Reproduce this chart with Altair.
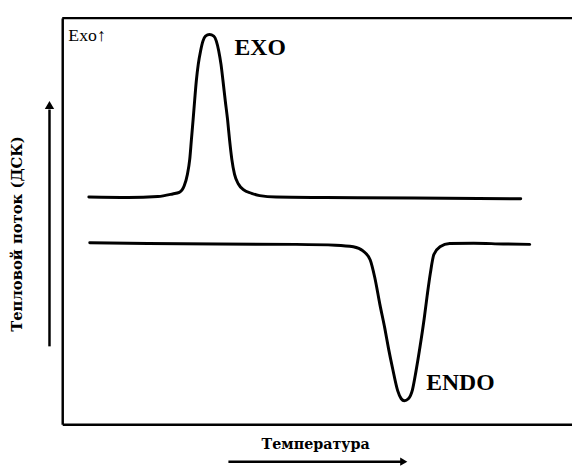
import altair as alt
import pandas as pd

# ---- data (arbitrary units: temperature 0-100, heat flow 0-100) ----
EXO_T = [5.22, 12.96, 18.76, 21.66, 22.96, 23.93, 24.56, 25.01, 25.34, 25.67, 25.98, 26.31,
         26.69, 27.14, 27.60, 28.10, 28.88, 29.73, 30.23, 30.70, 31.14, 31.53, 31.97, 32.44,
         32.82, 33.27, 33.79, 34.56, 35.53, 37.14, 38.74, 41.97, 51.64, 69.05, 89.94]
EXO_H = [55.95, 55.83, 56.07, 56.72, 57.11, 58.74, 61.58, 65.22, 70.07, 74.93, 79.78, 84.64,
         88.67, 91.92, 94.34, 95.56, 95.95, 95.56, 94.34, 91.92, 88.67, 84.64, 79.78, 74.93,
         70.07, 65.22, 61.58, 59.15, 57.77, 56.87, 56.31, 55.95, 55.83, 55.70, 55.51]

ENDO_T = [5.4, 16.8, 30.4, 45.8, 53.6, 57.1, 59.0, 60.4, 61.3, 62.3, 63.3, 64.0, 64.8, 65.8,
          66.5, 67.1, 67.9, 68.7, 69.4, 70.2, 71.0, 71.6, 72.2, 72.9, 74.1, 76.0, 80.7, 86.5, 91.7]
ENDO_H = [44.7, 44.5, 44.4, 44.3, 44.1, 43.7, 42.7, 40.5, 36.2, 29.6, 23.5, 18.7, 13.8, 8.3,
          6.3, 5.8, 6.3, 8.5, 13.1, 19.2, 26.0, 31.8, 37.1, 41.8, 43.7, 44.5, 44.6, 44.4, 44.3]

X_TITLE = "Температура"
Y_TITLE = "Тепловой поток (ДСК)"

LABELS = ["EXO", "ENDO", "Exo↑"]
LABEL_T = [33.8, 71.4, 1.2]
LABEL_H = [90.8, 8.5, 94.4]

# arrows beside the axes (data units, outside the plotted domain)
YARROW_T = [-2.5]
YARROW_H = [19.2]
YARROW_H2 = [77.5]
YARROW_HEAD_H = [78.6]
XARROW_H = [-9.2]
XARROW_T = [32.6]
XARROW_T2 = [66.5]
XARROW_HEAD_T = [67.0]

SERIF = "Liberation Serif"
TITLE_FONT = "DejaVu Serif"

curves = pd.DataFrame({
    "T": EXO_T + ENDO_T,
    "H": EXO_H + ENDO_H,
    "curve": ["EXO"] * len(EXO_T) + ["ENDO"] * len(ENDO_T),
})

xs = alt.Scale(domain=[0, 100], nice=False, zero=False)
ys = alt.Scale(domain=[0, 100], nice=False, zero=False)

x_axis = alt.Axis(
    title=X_TITLE, ticks=False, labels=False, grid=False,
    domain=True, domainColor="black", domainWidth=2.5,
    titleFont=TITLE_FONT, titleFontSize=14.5, titleFontWeight="bold", titleColor="black",
    titleX=256.5, titleY=25, titleBaseline="alphabetic", titleAlign="center")
y_axis = alt.Axis(
    title=Y_TITLE, ticks=False, labels=False, grid=False,
    domain=True, domainColor="black", domainWidth=2.5,
    titleFont=TITLE_FONT, titleFontSize=15, titleFontWeight="bold", titleColor="black",
    titleX=-46, titleY=218.5, titleBaseline="middle", titleAlign="center", titleAngle=270)

X = alt.X("T:Q", scale=xs, axis=x_axis)
Y = alt.Y("H:Q", scale=ys, axis=y_axis)

lines = alt.Chart(curves).mark_line(
    color="black", strokeWidth=3, interpolate="monotone", strokeCap="round"
).encode(x=X, y=Y, detail="curve:N")

frame_top = alt.Chart(pd.DataFrame({"T": [0], "T2": [100], "H": [100]})).mark_rule(
    color="black", strokeWidth=2.5
).encode(x=X, x2="T2:Q", y=Y)

lab = pd.DataFrame({"label": LABELS, "T": LABEL_T, "H": LABEL_H})
big_labels = alt.Chart(lab[lab["label"] != "Exo↑"]).mark_text(
    font=SERIF, fontSize=24, fontWeight="bold", color="black", align="left", baseline="alphabetic"
).encode(x=X, y=Y, text="label:N")
small_label = alt.Chart(lab[lab["label"] == "Exo↑"]).mark_text(
    font=SERIF, fontSize=18, color="black", align="left", baseline="alphabetic"
).encode(x=X, y=Y, text="label:N")

y_arrow = alt.Chart(pd.DataFrame({"T": YARROW_T, "H": YARROW_H, "H2": YARROW_H2})).mark_rule(
    color="black", strokeWidth=2.5
).encode(x=X, y=Y, y2="H2:Q")
y_head = alt.Chart(pd.DataFrame({"T": YARROW_T, "H": YARROW_HEAD_H})).mark_point(
    shape="triangle-up", size=90, filled=True, color="black", opacity=1
).encode(x=X, y=Y)

x_arrow = alt.Chart(pd.DataFrame({"T": XARROW_T, "T2": XARROW_T2, "H": XARROW_H})).mark_rule(
    color="black", strokeWidth=2.5
).encode(x=X, x2="T2:Q", y=Y)
x_head = alt.Chart(pd.DataFrame({"T": XARROW_HEAD_T, "H": XARROW_H})).mark_point(
    shape="triangle-right", size=70, filled=True, color="black", opacity=1
).encode(x=X, y=Y)

chart = alt.layer(
    lines, frame_top, big_labels, small_label, y_arrow, y_head, x_arrow, x_head
).properties(
    width=517, height=412, autosize="none",
    padding={"left": 55, "top": 7, "right": 0, "bottom": 40},
    background="white",
).configure_view(stroke=None)

chart.save("out.html", embed_options={"renderer": "svg", "actions": False})
